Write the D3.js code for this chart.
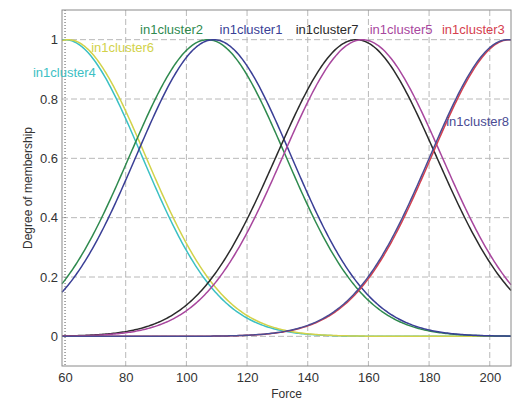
<!DOCTYPE html>
<html>
<head>
<meta charset="utf-8">
<script src="https://cdn.jsdelivr.net/npm/d3@7"></script>
<style>
  body { margin: 0; background: #fff; }
</style>
</head>
<body>
<div id="chart"></div>
<script>
// membership functions (gaussian): name, center, sigma
var clusters = ["in1cluster1", "in1cluster2", "in1cluster3", "in1cluster4", "in1cluster5", "in1cluster6", "in1cluster7", "in1cluster8"];
var centers  = [109, 107, 206.5, 60, 158, 61, 156, 206];
var sigmas   = [25.6, 25.8, 25.7, 25.4, 26.2, 25.6, 26.4, 25.7];
var colors   = ["#3a3f96", "#2f8a4f", "#d6404e", "#3cc0c4", "#a8479e", "#d2d24a", "#2b2b2b", "#4a4c94"];

// label anchors (data units)
var labelX = [121.3, 95.1, 194.6, 59.8, 170.8, 79.0, 146.4, 196.0];
var labelY = [1.034, 1.034, 1.034, 0.889, 1.034, 0.974, 1.034, 0.726];

var xTicks = [60, 80, 100, 120, 140, 160, 180, 200];
var yTicks = [0, 0.2, 0.4, 0.6, 0.8, 1];

var drawChart = function() {
    const width = 518, height = 404;
    const margin = {left: 62, right: 7, top: 10, bottom: 38};
    var fontFamily = "Liberation Sans, Arial, sans-serif";

    var svg = d3.select("#chart").append("svg")
        .attr("width", width)
        .attr("height", height)
        .style("background", "#fff");

    var x = d3.scaleLinear().domain([59, 207]).range([margin.left, width - margin.right]);
    var y = d3.scaleLinear().domain([-0.1, 1.1]).range([height - margin.bottom, margin.top]);

    // grid
    svg.append("g").selectAll("line.gx")
        .data(xTicks.slice(1))
        .join("line")
        .attr("x1", d => x(d)).attr("x2", d => x(d))
        .attr("y1", y(1.1)).attr("y2", y(-0.1))
        .attr("stroke", "#b8b8b8").attr("stroke-dasharray", "6,3");
    svg.append("g").selectAll("line.gy")
        .data(yTicks)
        .join("line")
        .attr("x1", x(59)).attr("x2", x(207))
        .attr("y1", d => y(d)).attr("y2", d => y(d))
        .attr("stroke", "#b8b8b8").attr("stroke-dasharray", "6,3");

    // dotted line at x = 60
    svg.append("line")
        .attr("x1", x(60)).attr("x2", x(60))
        .attr("y1", y(1.1)).attr("y2", y(-0.1))
        .attr("stroke", "#555").attr("stroke-dasharray", "1,2");

    // curves
    var xs = d3.range(59, 207.01, 0.5);
    var line = d3.line().x(d => x(d[0])).y(d => y(d[1]));
    var order = [3, 5, 1, 0, 6, 4, 2, 7];
    svg.append("g").selectAll("path")
        .data(order)
        .join("path")
        .attr("d", i => line(xs.map(v => [v, Math.exp(-Math.pow(v - centers[i], 2) / (2 * sigmas[i] * sigmas[i]))])))
        .attr("fill", "none")
        .attr("stroke", i => colors[i])
        .attr("stroke-width", 1.5);

    // frame
    svg.append("rect")
        .attr("x", x(59)).attr("y", y(1.1))
        .attr("width", x(207) - x(59)).attr("height", y(-0.1) - y(1.1))
        .attr("fill", "none").attr("stroke", "#8a8a8a");

    // labels
    svg.append("g").selectAll("text")
        .data(clusters)
        .join("text")
        .text(d => d)
        .attr("x", (d, i) => x(labelX[i]))
        .attr("y", (d, i) => y(labelY[i]))
        .attr("dy", "0.35em")
        .attr("text-anchor", "middle")
        .attr("font-family", fontFamily)
        .attr("font-size", 13)
        .attr("fill", (d, i) => colors[i]);

    // axes
    var xAxis = svg.append("g")
        .attr("transform", "translate(0," + y(-0.1) + ")")
        .call(d3.axisBottom(x).tickValues(xTicks).tickSize(0).tickPadding(7));
    var yAxis = svg.append("g")
        .attr("transform", "translate(" + x(59) + ",0)")
        .call(d3.axisLeft(y).tickValues(yTicks).tickSize(0).tickPadding(4).tickFormat(d3.format("~g")));
    [xAxis, yAxis].forEach(function(a) {
        a.select(".domain").remove();
        a.selectAll("text").attr("font-family", fontFamily).attr("font-size", 13).attr("fill", "#333");
    });

    svg.append("text")
        .text("Force")
        .attr("x", (x(59) + x(207)) / 2)
        .attr("y", 398)
        .attr("text-anchor", "middle")
        .attr("font-family", fontFamily)
        .attr("font-size", 12)
        .attr("fill", "#333");

    svg.append("text")
        .text("Degree of membership")
        .attr("transform", "translate(32," + (y(0.5)) + ") rotate(-90)")
        .attr("text-anchor", "middle")
        .attr("font-family", fontFamily)
        .attr("font-size", 12)
        .attr("fill", "#333");
};

window.addEventListener("load", drawChart);
</script>
</body>
</html>
